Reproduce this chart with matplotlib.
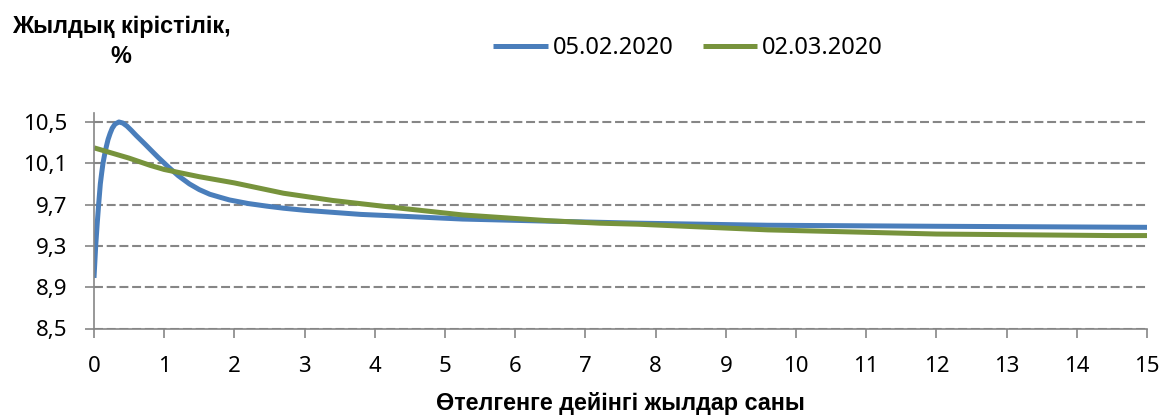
import matplotlib
matplotlib.use('Agg')
import matplotlib.pyplot as plt

plt.rcParams['font.family'] = ['Noto Sans', 'DejaVu Sans']

# Values
blue_label = '05.02.2020'
blue_x = [0, 0.024, 0.045, 0.066, 0.09, 0.11, 0.128, 0.15, 0.175, 0.2, 0.23, 0.26, 0.3, 0.355,
          0.41, 0.47, 0.53, 0.6, 0.66, 0.72, 0.8, 0.91, 1.05, 1.2, 1.36, 1.5, 1.65, 1.8, 1.93,
          2.2, 2.46, 2.7, 3.0, 3.4, 3.8, 4.3, 5.25, 6.45, 7.75, 9.6, 12, 15]
blue_y = [8.99, 9.30, 9.51, 9.70, 9.90, 10.01, 10.10, 10.18, 10.26, 10.33, 10.39, 10.44, 10.48, 10.50,
          10.49, 10.46, 10.42, 10.37, 10.33, 10.29, 10.235, 10.16, 10.07, 9.98, 9.90, 9.845, 9.80, 9.77, 9.745,
          9.71, 9.685, 9.665, 9.645, 9.625, 9.605, 9.59, 9.56, 9.54, 9.52, 9.50, 9.49, 9.48]

green_label = '02.03.2020'
green_x = [0, 0.5, 0.8, 1.0, 1.5, 2, 2.7, 3.4, 4.3, 5.25, 6.45, 7.2, 7.75, 9.6, 12, 14.5, 15]
green_y = [10.25, 10.15, 10.08, 10.04, 9.97, 9.91, 9.81, 9.74, 9.67, 9.60, 9.545, 9.52, 9.51, 9.455, 9.415, 9.40, 9.40]

x_ticks = list(range(0, 16))
y_ticks = [8.5, 8.9, 9.3, 9.7, 10.1, 10.5]
y_tick_labels = ['8,5', '8,9', '9,3', '9,7', '10,1', '10,5']

bold_family = ['Liberation Sans', 'DejaVu Sans']

fig = plt.figure(figsize=(11.61, 4.16), dpi=100)
ax = fig.add_axes([94 / 1161, 1 - 328.5 / 416, (1147 - 94) / 1161, (328.5 - 112.7) / 416])

ax.plot(blue_x, blue_y, color='#4A7EBB', linewidth=3.6, label=blue_label,
        solid_capstyle='butt', solid_joinstyle='round')
ax.plot(green_x, green_y, color='#77933C', linewidth=3.6, label=green_label,
        solid_capstyle='butt', solid_joinstyle='round')

ax.set_xlim(0, 15)
ax.set_ylim(8.5, 10.59)
ax.set_xticks(x_ticks)
ax.set_yticks(y_ticks)
ax.set_yticklabels(y_tick_labels)

axis_color = '#868686'
for side in ['top', 'right']:
    ax.spines[side].set_visible(False)
for side in ['left', 'bottom']:
    ax.spines[side].set_color(axis_color)
    ax.spines[side].set_linewidth(1.2)

ax.tick_params(axis='both', direction='out', length=6.5, width=1.2, color=axis_color,
               labelsize=16, labelcolor='black')
ax.tick_params(axis='x', pad=13)
ax.tick_params(axis='y', pad=13)
ax.yaxis.grid(True, color=axis_color, linewidth=1.5, linestyle=(0, (4.3, 1.8)))
ax.xaxis.grid(False)

ax.set_xlabel('Өтелгенге дейінгі жылдар саны', fontsize=16.8, fontweight='bold',
              family=bold_family, labelpad=11)

fig.text(121 / 1161, 1 - 33 / 416, 'Жылдық кірістілік,', fontsize=16.8, fontweight='bold',
         family=bold_family, ha='center', va='baseline')
fig.text(121 / 1161, 1 - 63 / 416, '%', fontsize=16.8, fontweight='bold',
         family=bold_family, ha='center', va='baseline')

fig.legend(loc='center', bbox_to_anchor=(688 / 1161, 1 - 48 / 416), ncol=2, frameon=False,
           fontsize=17, handlelength=2.3, handletextpad=0.2, columnspacing=1.25)

fig.savefig('out.png', dpi=100)
